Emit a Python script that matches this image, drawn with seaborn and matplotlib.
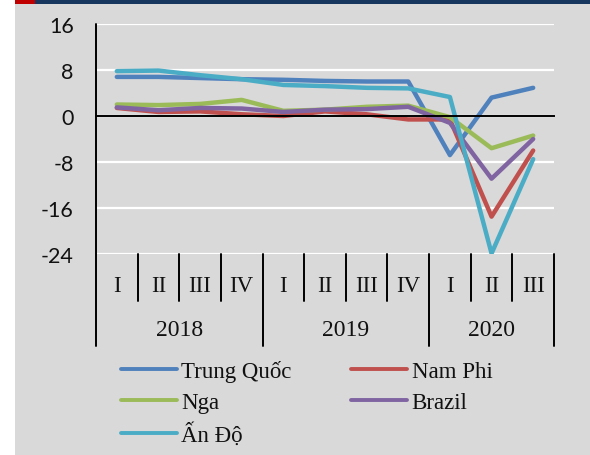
import numpy as np
import pandas as pd
import matplotlib
matplotlib.use("Agg")
import matplotlib.pyplot as plt
from matplotlib.patches import Rectangle
from matplotlib.lines import Line2D
from matplotlib.transforms import blended_transform_factory
import seaborn as sns

quarters = ["I", "II", "III", "IV", "I", "II", "III", "IV", "I", "II", "III"]
years = ["2018", "2019", "2020"]
year_spans = [(0, 4), (4, 8), (8, 11)]

countries = ["Trung Quốc", "Nam Phi", "Nga", "Brazil", "Ấn Độ"]
trung_quoc = [6.8, 6.8, 6.6, 6.4, 6.3, 6.1, 6.0, 6.0, -6.8, 3.2, 4.9]
nam_phi = [1.4, 0.7, 0.8, 0.3, 0.0, 0.8, 0.3, -0.6, -0.6, -17.5, -6.0]
nga = [2.0, 1.9, 2.1, 2.8, 0.9, 1.1, 1.6, 1.8, -0.2, -5.6, -3.4]
brazil = [1.5, 1.0, 1.4, 1.3, 0.7, 1.1, 1.2, 1.6, -1.2, -10.9, -4.0]
an_do = [7.8, 7.9, 7.1, 6.4, 5.4, 5.2, 4.9, 4.8, 3.3, -23.9, -7.5]
series = [trung_quoc, nam_phi, nga, brazil, an_do]
colors = ["#4f81bd", "#c0504d", "#9bbb59", "#8064a2", "#4bacc6"]

W, H = 590, 456
df = pd.DataFrame({
    "pos": np.tile(np.arange(len(quarters)) + 0.5, len(countries)),
    "value": np.concatenate(series),
    "country": np.repeat(countries, len(quarters)),
})

sns.set_style("white")
fig = plt.figure(figsize=(W / 100, H / 100), dpi=100)
fig.patch.set_facecolor("white")
fig.patches.append(Rectangle((15 / W, 0), 1 - 15 / W, 1 - 5 / H, transform=fig.transFigure,
                             facecolor="#d9d9d9", edgecolor="none", zorder=-10))
fig.patches.append(Rectangle((15 / W, 1 - 5 / H), 20 / W, 5 / H, transform=fig.transFigure,
                             facecolor="#c00000", edgecolor="none", zorder=-9))
fig.patches.append(Rectangle((35 / W, 1 - 5 / H), 1 - 35 / W, 5 / H, transform=fig.transFigure,
                             facecolor="#17375e", edgecolor="none", zorder=-9))

ax = fig.add_axes([96 / W, 1 - 255 / H, (554 - 96) / W, (255 - 25) / H])
ax.set_facecolor("none")

palette = dict(zip(countries, colors))
sns.lineplot(data=df, x="pos", y="value", hue="country", hue_order=countries,
             palette=palette, linewidth=3.2, legend=False, ax=ax, sort=False)

ax.set_xlim(0, len(quarters))
ax.set_ylim(-24, 16)
ax.set_yticks([-24, -16, -8, 0, 8, 16])
ax.set_yticklabels(["-24", "-16", "-8", "0", "8", "16"], family="Lato", fontsize=15.5,
                   color="#111111")
ax.tick_params(axis="y", length=0, pad=16)
ax.grid(axis="y", color="white", linewidth=1.6)
ax.grid(axis="x", visible=False)
ax.set_axisbelow(True)
for s in ["top", "right"]:
    ax.spines[s].set_visible(False)
ax.spines["left"].set_visible(False)
ax.spines["bottom"].set_position(("data", 0))
ax.spines["bottom"].set_color("black")
ax.spines["bottom"].set_linewidth(1.4)
ax.set_xticks(np.arange(len(quarters) + 1))
ax.set_xticklabels([])
ax.tick_params(axis="x", direction="out", length=5, width=1.4, color="black")
ax.set_xlabel("")
ax.set_ylabel("")

tr = blended_transform_factory(ax.transData, ax.transAxes)
ax.add_line(Line2D([0, 0], [1, -0.40], transform=tr, color="black", lw=1.4, clip_on=False))
for b in [4, 8, 11]:
    ax.add_line(Line2D([b, b], [0, -0.40], transform=tr, color="black", lw=1.4, clip_on=False))
for b in [1, 2, 3, 5, 6, 7, 9, 10]:
    ax.add_line(Line2D([b, b], [0, -0.204], transform=tr, color="black", lw=1.4, clip_on=False))
for i, q in enumerate(quarters):
    ax.text(i + 0.5, -0.139, q, transform=tr, ha="center", va="center",
            family="Liberation Serif", fontsize=16.5, color="#111111")
for (a, b), y in zip(year_spans, years):
    ax.text((a + b) / 2, -0.330, y, transform=tr, ha="center", va="center",
            family="Liberation Serif", fontsize=17, color="#111111")

order = [0, 2, 4, 1, 3]
handles = [Line2D([], [], color=colors[i], lw=2.8) for i in order]
labels = [countries[i] for i in order]
leg = fig.legend(handles, labels, loc="upper left", bbox_to_anchor=(121 / W, 1 - 361 / H),
                 ncol=2, frameon=False, borderpad=0, borderaxespad=0,
                 handlelength=2.45, handletextpad=0.18, labelspacing=0.42, columnspacing=2.6,
                 prop={"family": "Liberation Serif", "size": 16.5})
for t in leg.get_texts():
    t.set_color("#111111")

fig.savefig("out.png", dpi=100)
